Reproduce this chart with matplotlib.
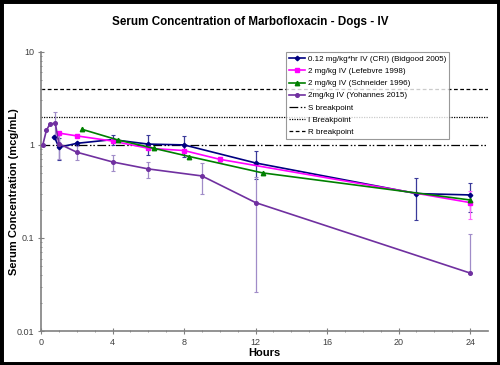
import matplotlib
matplotlib.use("Agg")
import matplotlib.pyplot as plt
import numpy as np
from matplotlib.lines import Line2D
from matplotlib.patches import Rectangle

plt.rcParams['font.family'] = ['Liberation Sans', 'DejaVu Sans']

# Bidgood 2005 - 0.12 mg/kg*hr IV (CRI)
bid_t = [0.75, 1, 2, 4, 6, 8, 12, 21, 24]
bid_c = [1.22, 0.94, 1.04, 1.14, 1.02, 1.00, 0.64, 0.30, 0.29]
bid_sd = [0, 0.25, 0, 0.15, 0.25, 0.25, 0.21, 0.143, 0.10]

# Lefebvre 1998 - 2 mg/kg IV
lef_t = [1, 2, 4, 6, 8, 10, 24]
lef_c = [1.34, 1.25, 1.10, 0.92, 0.87, 0.70, 0.24]
lef_sd = [0, 0, 0, 0, 0, 0.05, 0.08]

# Schneider 1996 - 2 mg/kg IV
sch_t = [2.3, 4.3, 6.3, 8.3, 12.4, 24]
sch_c = [1.47, 1.13, 0.92, 0.75, 0.50, 0.256]

# Yohannes 2015 - 2 mg/kg IV
yoh_t = [0.1, 0.3, 0.5, 0.8, 1, 2, 4, 6, 9, 12, 24]
yoh_c = [1.0, 1.43, 1.68, 1.71, 1.03, 0.835, 0.656, 0.552, 0.464, 0.24, 0.042]
yoh_sd = [0, 0, 0, 0.55, 0.33, 0.15, 0.13, 0.11, 0.17, 0.214, 0.068]

breakpoints = [1, 2, 4]
bp_labels = ["S breakpoint", "I Breakpoint", "R breakpoint"]
bp_styles = [(0, (7, 2, 1.2, 1.5, 1.2, 2)), (0, (1, 1)), (0, (3, 2))]

series = [
    ("0.12 mg/kg*hr IV (CRI) (Bidgood 2005)", bid_t, bid_c, bid_sd, "#000080", "D", 2.3, "#3a3a9a"),
    ("2 mg/kg IV (Lefebvre 1998)", lef_t, lef_c, lef_sd, "#ff00ff", "s", 3.5, "#ff66ff"),
    ("2 mg/kg IV (Schneider 1996)", sch_t, sch_c, None, "#008000", "^", 3.2, "#008000"),
    ("2mg/kg IV (Yohannes 2015)", yoh_t, yoh_c, yoh_sd, "#7030a0", "o", 2.6, "#a08cc8"),
]


def lower_err(c, sd):
    c = np.array(c)
    sd = np.array(sd)
    return np.where(c - sd > 0, sd, 0)


fig = plt.figure(figsize=(5, 3.65), dpi=100)
ax = fig.add_axes([0.082, 0.093, 0.894, 0.765])

handles = []
for label, t, c, sd, color, marker, ms, ecol in series:
    if sd is not None:
        ax.errorbar(t, c, yerr=[lower_err(c, sd), sd], fmt="none",
                    ecolor=ecol, elinewidth=0.9, capsize=1.5, capthick=0.8, zorder=2)
    ax.plot(t, c, color=color, marker=marker, markersize=ms, lw=1.2, zorder=3)
    handles.append(Line2D([], [], color=color, marker=marker, markersize=ms, lw=1.2, label=label))

for bp, lab, ls in zip(breakpoints, bp_labels, bp_styles):
    ax.axhline(bp, color="black", lw=0.9, linestyle=ls, zorder=1)
    handles.append(Line2D([], [], color="black", lw=0.9, linestyle=ls, label=lab))

ax.set_yscale("log")
ax.set_ylim(0.01, 10)
ax.set_xlim(0, 25)
ax.set_xticks([0, 4, 8, 12, 16, 20, 24])
ax.set_xticks(range(0, 25), minor=True)
ax.set_yticks([0.01, 0.1, 1, 10])
ax.set_yticklabels(["0.01", "0.1", "1", "10"])

for side in ["top", "right"]:
    ax.spines[side].set_visible(False)
for side in ["left", "bottom"]:
    ax.spines[side].set_color("#808080")
    ax.spines[side].set_linewidth(1.2)

ax.tick_params(which="major", direction="inout", length=4, width=0.8,
               color="#808080", labelsize=6.5, labelcolor="#404040", pad=3)
ax.tick_params(which="minor", direction="inout", length=2, width=0.6, color="#808080")

ax.set_xlabel("Hours", fontsize=8, fontweight="bold", labelpad=1)
ax.set_ylabel("Serum Concentration (mcg/mL)", fontsize=8, fontweight="bold")
ax.yaxis.set_label_coords(-0.05, 0.5)
fig.suptitle("Serum Concentration of Marbofloxacin - Dogs - IV", fontsize=8.4,
             fontweight="bold", y=0.955)

leg = ax.legend(handles=handles, loc="upper left", bbox_to_anchor=(0.548, 0.998),
                fontsize=5.8, frameon=True, fancybox=False, handlelength=2.0,
                handletextpad=0.3, labelspacing=0.55, borderpad=0.4, borderaxespad=0)
leg.get_frame().set_edgecolor("#808080")
leg.get_frame().set_linewidth(0.8)

fig.patches.append(Rectangle((0, 0), 1, 1, transform=fig.transFigure,
                             fill=False, edgecolor="black", lw=5))

fig.savefig("out.png", dpi=100)
